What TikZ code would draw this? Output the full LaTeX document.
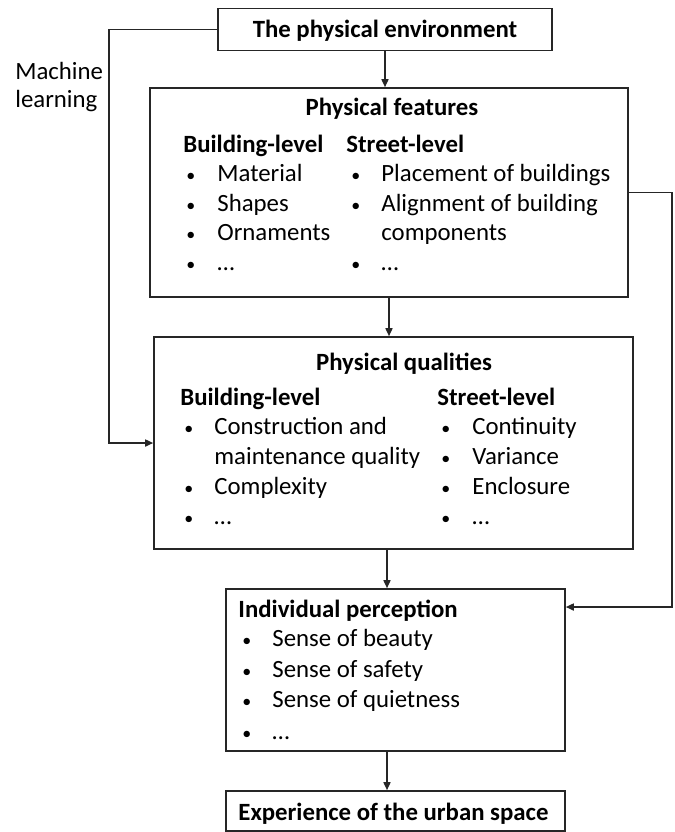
\documentclass[tikz,border=0pt]{standalone}
\usepackage{fontspec}
\setmainfont{Carlito}
\usetikzlibrary{arrows.meta}
\newcommand{\fsz}{\fontsize{12.4}{14.5}\selectfont}
\begin{document}
\begin{tikzpicture}[x=0.5pt,y=-0.5pt,
  every node/.style={font=\fsz},
  box/.style={draw=black!85,line width=0.8pt,fill=white,inner sep=0pt},
  conn/.style={draw=black!85,line width=0.8pt,-{Triangle[length=4pt,width=3.5pt]}},
  txt/.style={anchor=base west,inner sep=0pt},
  bul/.style={anchor=base west,inner sep=0pt,font=\fontsize{9}{10}\selectfont},
  hd/.style={anchor=base,inner sep=0pt,font=\fsz\bfseries},
  hdl/.style={anchor=base west,inner sep=0pt,font=\fsz\bfseries}]
\useasboundingbox (0,0) rectangle (675,832);
% boxes
\node[box,minimum width=167pt,minimum height=21pt] (top) at (385,29.5) {};
\node[box,minimum width=239pt,minimum height=104.5pt] (feat) at (389,192.5) {};
\node[box,minimum width=239.5pt,minimum height=106pt] (qual) at (393.5,443) {};
\node[box,minimum width=169.5pt,minimum height=81pt] (perc) at (395.5,670) {};
\node[box,minimum width=169.5pt,minimum height=20pt] (exp) at (395.5,811) {};
% helper coordinates
\coordinate (ml) at (109,443);
\coordinate (rc) at (672,607);
\coordinate (xa) at (387,0);
% connectors
\draw[conn] (top.south) -- (top.south |- feat.north);
\draw[conn] (feat.south) -- (feat.south |- qual.north);
\draw[conn] (qual.south -| xa) -- (perc.north -| xa);
\draw[conn] (perc.south -| xa) -- (exp.north -| xa);
\draw[conn] (top.west) -| (ml) -- (qual.west);
\draw[conn] (feat.east) -| (rc) -- (rc -| perc.east);
% texts
\node[hd] (tt) at (385,37) {The physical environment};
\node[txt] (ml1) at (15,79) {Machine};
\node[txt] (ml2) at (15,107) {learning};
% features
\node[hd] (fh) at (392,115) {Physical features};
\node[hdl] (fb) at (183,152) {Building-level};
\node[hdl] (fs) at (346,152) {Street-level};
\foreach \y/\t [count=\i] in {181/Material,211/Shapes,240/Ornaments,270/…}{
  \node[bul] (fbb\i) at (186,\y) {•};
  \node[txt] (fbt\i) at (217,\y) {\t};
}
\node[bul] (fsb1) at (351,181) {•};
\node[txt] (fst1) at (381,181) {Placement of buildings};
\node[bul] (fsb2) at (351,211) {•};
\node[txt] (fst2) at (381,211) {Alignment of building};
\node[txt] (fst3) at (381,240) {components};
\node[bul] (fsb4) at (351,270) {•};
\node[txt] (fst4) at (381,270) {…};
% qualities
\node[hd] (qh) at (404,370) {Physical qualities};
\node[hdl] (qb) at (180,405) {Building-level};
\node[hdl] (qs) at (437,405) {Street-level};
\node[bul] (qbb1) at (184,434) {•};
\node[txt] (qbt1) at (214,434) {Construction and};
\node[txt] (qbt2) at (214,464) {maintenance quality};
\node[bul] (qbb3) at (184,494) {•};
\node[txt] (qbt3) at (214,494) {Complexity};
\node[bul] (qbb4) at (184,524) {•};
\node[txt] (qbt4) at (214,524) {…};
\foreach \y/\t [count=\i] in {434/Continuity,464/Variance,494/Enclosure,524/…}{
  \node[bul] (qsb\i) at (441,\y) {•};
  \node[txt] (qst\i) at (472,\y) {\t};
}
% perception
\node[hdl] (ph) at (238,617) {Individual perception};
\foreach \y/\t [count=\i] in {646/Sense of beauty,677/Sense of safety,707/Sense of quietness,739/…}{
  \node[bul] (pb\i) at (242,\y) {•};
  \node[txt] (pt\i) at (272,\y) {\t};
}
% experience
\node[hdl] (eh) at (238,820) {Experience of the urban space};
\end{tikzpicture}
\end{document}
